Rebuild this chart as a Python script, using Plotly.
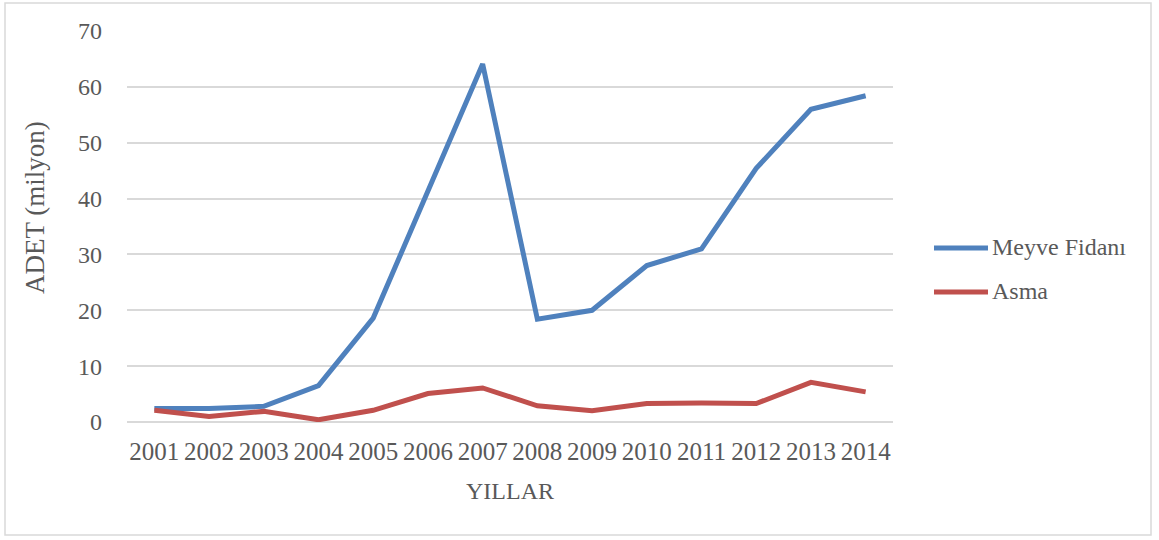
import plotly.graph_objects as go

years = ["2001", "2002", "2003", "2004", "2005", "2006", "2007",
         "2008", "2009", "2010", "2011", "2012", "2013", "2014"]
meyve_fidani = [2.4, 2.4, 2.8, 6.5, 18.6, 41.2, 64.1, 18.4, 20.0, 28.0, 31.0, 45.4, 56.0, 58.4]
asma = [2.1, 1.0, 1.9, 0.4, 2.1, 5.1, 6.1, 2.9, 2.0, 3.3, 3.4, 3.3, 7.1, 5.4]
y_ticks = [0, 10, 20, 30, 40, 50, 60, 70]

BLUE = "#4F81BD"
RED = "#C0504D"
TXT = "#595959"
GRID = "#D9D9D9"
FONT = "Liberation Serif"

L, R, T, B = 127, 893, 31, 422
W, H = 1159, 540
pw, ph = R - L, B - T

def px(x):
    return (x - L) / pw

def py(y):
    return (B - y) / ph

fig = go.Figure()
fig.add_trace(go.Scatter(x=years, y=meyve_fidani, mode="lines", name="Meyve Fidanı",
                         line=dict(color=BLUE, width=5), showlegend=False))
fig.add_trace(go.Scatter(x=years, y=asma, mode="lines", name="Asma",
                         line=dict(color=RED, width=5), showlegend=False))

shapes = [
    dict(type="rect", xref="paper", yref="paper", x0=px(5), x1=px(1151), y0=py(535), y1=py(3),
         line=dict(color=GRID, width=1.5), fillcolor="rgba(0,0,0,0)", layer="below"),
]
annotations = [
    dict(text="ADET (milyon)", xref="paper", yref="paper", x=px(35), y=py(208), showarrow=False,
         textangle=-90, font=dict(family=FONT, size=27, color=TXT), xanchor="center", yanchor="middle"),
    dict(text="YILLAR", xref="paper", yref="paper", x=px(510), y=py(491), showarrow=False,
         font=dict(family=FONT, size=24, color=TXT), xanchor="center", yanchor="middle"),
]
legend_items = [("Meyve Fidanı", BLUE, 248), ("Asma", RED, 292)]
for name, col, yy in legend_items:
    shapes.append(dict(type="line", xref="paper", yref="paper", x0=px(934), x1=px(988),
                       y0=py(yy), y1=py(yy), line=dict(color=col, width=5)))
    annotations.append(dict(text=name, xref="paper", yref="paper", x=px(990), y=py(yy - 1),
                            showarrow=False, xanchor="left", yanchor="middle",
                            font=dict(family=FONT, size=24, color=TXT)))

fig.update_layout(
    width=W, height=H,
    margin=dict(l=L, r=W - R, t=T, b=H - B),
    paper_bgcolor="white", plot_bgcolor="white",
    font=dict(family=FONT, size=24, color=TXT),
    shapes=shapes, annotations=annotations,
    xaxis=dict(type="category", range=[-0.5, 13.5], showgrid=False, showline=False,
               ticks="", tickfont=dict(family=FONT, size=25, color=TXT), ticklabelstandoff=12,
               zeroline=False),
    yaxis=dict(range=[0, 70], tickvals=y_ticks, showgrid=True, gridcolor=GRID, gridwidth=2,
               zeroline=True, zerolinecolor=GRID, zerolinewidth=2, showline=False, ticks="",
               tickfont=dict(family=FONT, size=24, color=TXT), ticklabelstandoff=24),
)

fig.write_html("out.html", config={"displayModeBar": False},
               post_script="document.body.style.margin='0';document.body.style.padding='0';")
